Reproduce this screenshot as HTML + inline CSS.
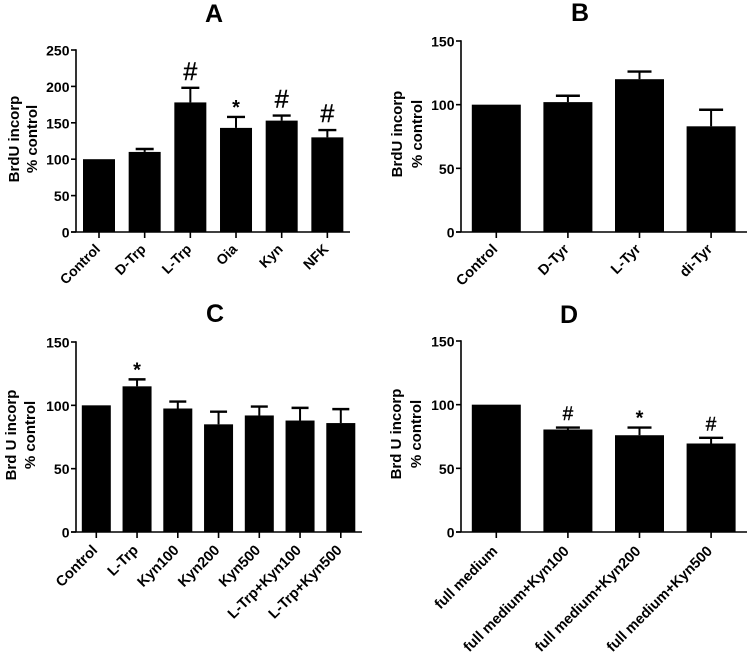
<!DOCTYPE html>
<html>
<head>
<meta charset="utf-8">
<style>
html,body{margin:0;padding:0;background:#fff;}
svg{display:block;filter:blur(0.35px);}
text{font-family:"Liberation Sans",Arial,sans-serif;fill:#000;}
</style>
</head>
<body>
<svg id="figure" width="750" height="652" viewBox="0 0 750 652" xmlns="http://www.w3.org/2000/svg"></svg>
<script>
// Panel A data
const categoriesA = ['Control','D-Trp','L-Trp','Oia','Kyn','NFK'];
const valuesA = [100,110,178,143,153,130];
const errorTopsA = [100,114,198,158,160,140];
const marksA = ['','','#','*','#','#'];
const ticksA = [0,50,100,150,200,250];
// Panel B data
const categoriesB = ['Control','D-Tyr','L-Tyr','di-Tyr'];
const valuesB = [100,102,120,83];
const errorTopsB = [100,107,126,96];
const marksB = ['','','',''];
const ticksB = [0,50,100,150];
// Panel C data
const categoriesC = ['Control','L-Trp','Kyn100','Kyn200','Kyn500','L-Trp+Kyn100','L-Trp+Kyn500'];
const valuesC = [100,115,97.5,85,92,88,86];
const errorTopsC = [100,120.5,103,95,99,98,97];
const marksC = ['','*','','','','',''];
const ticksC = [0,50,100,150];
// Panel D data
const categoriesD = ['full medium','full medium+Kyn100','full medium+Kyn200','full medium+Kyn500'];
const valuesD = [100,80.5,76,69.5];
const errorTopsD = [100,82,82,74];
const marksD = ['','#','*','#'];
const ticksD = [0,50,100,150];

const svg = document.getElementById('figure');
const NS = 'http://www.w3.org/2000/svg';

function make(tag, props, parent) {
  const node = document.createElementNS(NS, tag);
  for (const k in props) node.setAttribute(k, props[k]);
  parent.appendChild(node);
  return node;
}

function drawPanel(p) {
  const g = make('g', {}, svg);
  
  
  const maxV = p.ticks[p.ticks.length - 1];
  const yScale = v => p.y0 - (v / maxV) * (p.y0 - p.yTop);
  const xScale = i => p.firstX + i * p.step;

  const title = make('text', {x: p.titleX, y: p.titleY, 'font-size': 25, 'font-weight': 'bold', 'text-anchor': 'middle'}, g);
  title.textContent = p.letter;
  
  

  p.categories.forEach((c, i) => {
    const cx = xScale(i);
    const top = yScale(p.values[i]);
    const bar = make('rect', {x: cx - p.barW / 2, y: top, width: p.barW, height: p.y0 - top, fill: '#000'}, g);
    
    

    const errY = yScale(p.errorTops[i]);
    if (p.errorTops[i] > p.values[i]) {
      const stem = make('line', {x1: cx, x2: cx, y1: top, y2: errY, stroke: '#000', 'stroke-width': 2}, g);
      
      
      const cap = make('line', {x1: cx - p.capW / 2, x2: cx + p.capW / 2, y1: errY, y2: errY, stroke: '#000', 'stroke-width': 2.4}, g);
      
      
    }

    if (p.marks[i]) {
      const star = p.marks[i] === '*';
      const mark = make('text', {
        x: cx,
        y: errY - (star ? p.starGap : p.hashGap),
        'font-size': star ? p.starSize : p.hashSize,
        'font-weight': star ? 'bold' : 'normal',
        'text-anchor': 'middle',
        stroke: star ? 'none' : '#000',
        'stroke-width': star ? 0 : 0.4
      }, g);
      mark.textContent = p.marks[i];
      
      
    }

    const tick = make('line', {x1: cx, x2: cx, y1: p.y0, y2: p.y0 + 6, stroke: '#000', 'stroke-width': 1.6}, g);
    
    

    const lx = cx + 2;
    const ly = p.y0 + p.labelDrop;
    const label = make('text', {
      x: lx, y: ly, 'font-size': p.labelSize, 'font-weight': 'bold', 'text-anchor': 'end',
      transform: 'rotate(-45 ' + lx + ' ' + ly + ')'
    }, g);
    label.textContent = c;
    
    
  });

  const xAxis = make('line', {x1: p.axisX - 5, x2: p.axisEnd, y1: p.y0, y2: p.y0, stroke: '#000', 'stroke-width': 1.6}, g);
  
  
  const yAxis = make('line', {x1: p.axisX, x2: p.axisX, y1: p.yTop - 0.8, y2: p.y0, stroke: '#000', 'stroke-width': 1.6}, g);
  
  

  p.ticks.forEach(t => {
    const y = yScale(t);
    const tick = make('line', {x1: p.axisX - 5, x2: p.axisX, y1: y, y2: y, stroke: '#000', 'stroke-width': 1.6}, g);
    
    
    const label = make('text', {x: p.axisX - 6.5, y: y + 5.5, 'font-size': 14, 'font-weight': 'bold', 'text-anchor': 'end'}, g);
    label.textContent = t;
    
    
  });

  const t1 = make('text', {
    x: 0, y: 0, 'font-size': 15, 'font-weight': 'bold', 'text-anchor': 'middle',
    transform: 'translate(' + p.ylabX1 + ' ' + p.ylabY + ') rotate(-90)'
  }, g);
  t1.textContent = p.yTitle;
  
  
  const t2 = make('text', {
    x: 0, y: 0, 'font-size': 15, 'font-weight': 'bold', 'text-anchor': 'middle',
    transform: 'translate(' + p.ylabX2 + ' ' + p.ylabY + ') rotate(-90)'
  }, g);
  t2.textContent = '% control';
  
  
}

drawPanel({letter:'A', categories:categoriesA, values:valuesA, errorTops:errorTopsA, marks:marksA, ticks:ticksA,
  y0:232, yTop:50, axisX:76, axisEnd:350, firstX:99, step:45.67, barW:32, capW:18,
  titleX:214, titleY:22, ylabX1:19, ylabY:139, ylabX2:37, labelSize:14, labelDrop:18,
  yTitle:'BrdU incorp', hashSize:25, hashGap:8, starSize:20, starGap:3});
drawPanel({letter:'B', categories:categoriesB, values:valuesB, errorTops:errorTopsB, marks:marksB, ticks:ticksB,
  y0:232, yTop:41, axisX:461, axisEnd:747, firstX:496.3, step:71.6, barW:49, capW:24,
  titleX:580, titleY:21, ylabX1:402, ylabY:134, ylabX2:422, labelSize:14.5, labelDrop:18,
  yTitle:'BrdU incorp', hashSize:20, hashGap:8, starSize:20, starGap:3});
drawPanel({letter:'C', categories:categoriesC, values:valuesC, errorTops:errorTopsC, marks:marksC, ticks:ticksC,
  y0:532, yTop:342, axisX:76, axisEnd:362, firstX:96.3, step:40.75, barW:29, capW:17,
  titleX:215, titleY:322, ylabX1:16, ylabY:435, ylabX2:35, labelSize:14.6, labelDrop:19,
  yTitle:'Brd U incorp', hashSize:20, hashGap:8, starSize:20, starGap:3});
drawPanel({letter:'D', categories:categoriesD, values:valuesD, errorTops:errorTopsD, marks:marksD, ticks:ticksD,
  y0:532, yTop:341, axisX:461, axisEnd:747, firstX:496.3, step:71.6, barW:49, capW:24,
  titleX:569, titleY:323, ylabX1:401, ylabY:434, ylabX2:421, labelSize:14.6, labelDrop:20,
  yTitle:'Brd U incorp', hashSize:19, hashGap:7.5, starSize:20, starGap:3});
</script>
</body>
</html>
